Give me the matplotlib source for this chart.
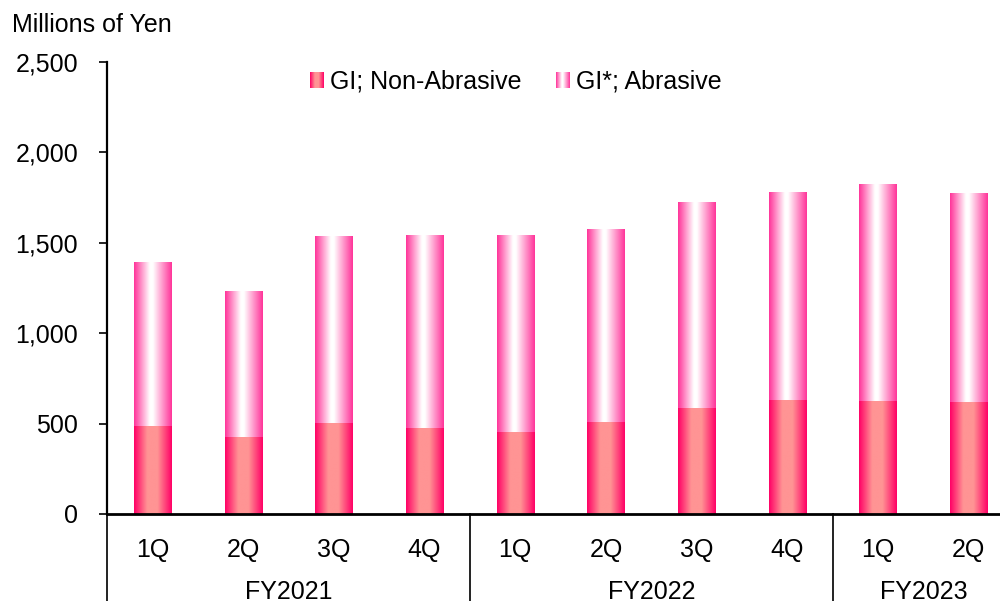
import numpy as np
import matplotlib
matplotlib.use("Agg")
import matplotlib.pyplot as plt
from matplotlib.colors import LinearSegmentedColormap
from matplotlib.image import BboxImage
from matplotlib.legend_handler import HandlerBase
from matplotlib.transforms import Bbox, TransformedBbox

plt.rcParams['font.family'] = ['Liberation Sans', 'DejaVu Sans']
FS = 18

# quarterly sales, millions of yen
quarters = ['1Q', '2Q', '3Q', '4Q', '1Q', '2Q', '3Q', '4Q', '1Q', '2Q']
years = ['FY2021', 'FY2022', 'FY2023']
year_sizes = [4, 4, 2]
non_abrasive = [488, 426, 503, 476, 454, 509, 586, 631, 627, 619]
totals = [1394, 1233, 1532, 1543, 1543, 1576, 1720, 1781, 1825, 1770]
abrasive = [t - n for t, n in zip(totals, non_abrasive)]
series_names = ['GI; Non-Abrasive', 'GI*; Abrasive']

# horizontal shading of the bars
cmap_non = LinearSegmentedColormap.from_list(
    'non', [(0.0, '#ff0066'), (0.35, '#ff9494'), (0.62, '#ff9494'), (1.0, '#ff0066')])
cmap_abr = LinearSegmentedColormap.from_list(
    'abr', [(0.0, '#ff3399'), (0.42, '#ffffff'), (0.5, '#ffffff'), (1.0, '#ff3399')])
grad = np.linspace(0, 1, 256).reshape(1, -1)

fig = plt.figure(figsize=(10, 6.01), dpi=100)
ax = fig.add_axes([0.1072, 0.1448, 0.9068, 0.752])

x = np.arange(len(quarters))
bw = 0.41
b1 = ax.bar(x, non_abrasive, bw, color='none', linewidth=0)
b2 = ax.bar(x, abrasive, bw, bottom=non_abrasive, color='none', linewidth=0)

for bars, cm in ((b1, cmap_non), (b2, cmap_abr)):
    for r in bars:
        x0, y0 = r.get_x(), r.get_y()
        ax.imshow(grad, cmap=cm, aspect='auto', interpolation='bilinear',
                  extent=[x0, x0 + r.get_width(), y0, y0 + r.get_height()], zorder=2)

ax.set_xlim(-0.5, len(quarters) - 0.5)
ax.set_ylim(0, 2500)
ax.set_yticks(range(0, 2501, 500))
ax.yaxis.set_major_formatter(matplotlib.ticker.StrMethodFormatter('{x:,.0f}'))
ax.tick_params(axis='y', length=6, width=1.2, pad=15, labelsize=FS)
ax.set_xticks(x)
ax.set_xticklabels(quarters)
ax.tick_params(axis='x', length=0, pad=17, labelsize=FS)

for s in ('top', 'right'):
    ax.spines[s].set_visible(False)
ax.spines['left'].set_linewidth(1.6)
ax.spines['bottom'].set_linewidth(2)

# fiscal year groups below the quarter labels
start = 0
for name, n in zip(years, year_sizes):
    edge = start - 0.5
    ax.plot([edge, edge], [0, -0.2], color='#222222', lw=1.4,
            transform=ax.get_xaxis_transform(), clip_on=False)
    ax.text(start + (n - 1) / 2, -0.172, name, ha='center', va='center',
            fontsize=FS, transform=ax.get_xaxis_transform())
    start += n


class GradientHandler(HandlerBase):
    def __init__(self, cm):
        super().__init__()
        self.cm = cm

    def create_artists(self, legend, orig_handle, xdescent, ydescent,
                       width, height, fontsize, trans):
        bb = Bbox.from_bounds(-xdescent, -ydescent, width, height)
        img = BboxImage(TransformedBbox(bb, trans), cmap=self.cm,
                        interpolation='bilinear')
        img.set_data(grad)
        return [img]


leg = ax.legend([b1, b2], series_names, ncol=2, frameon=False, fontsize=FS,
                loc='center', bbox_to_anchor=(0.516, 0.864), bbox_transform=fig.transFigure,
                handlelength=0.56, handleheight=0.56, handletextpad=0.22, columnspacing=1.4,
                handler_map={b1: GradientHandler(cmap_non), b2: GradientHandler(cmap_abr)})

fig.text(0.012, 1 - 25 / 601, 'Millions of Yen', fontsize=FS, ha='left', va='center')

fig.savefig('out.png', dpi=100)
